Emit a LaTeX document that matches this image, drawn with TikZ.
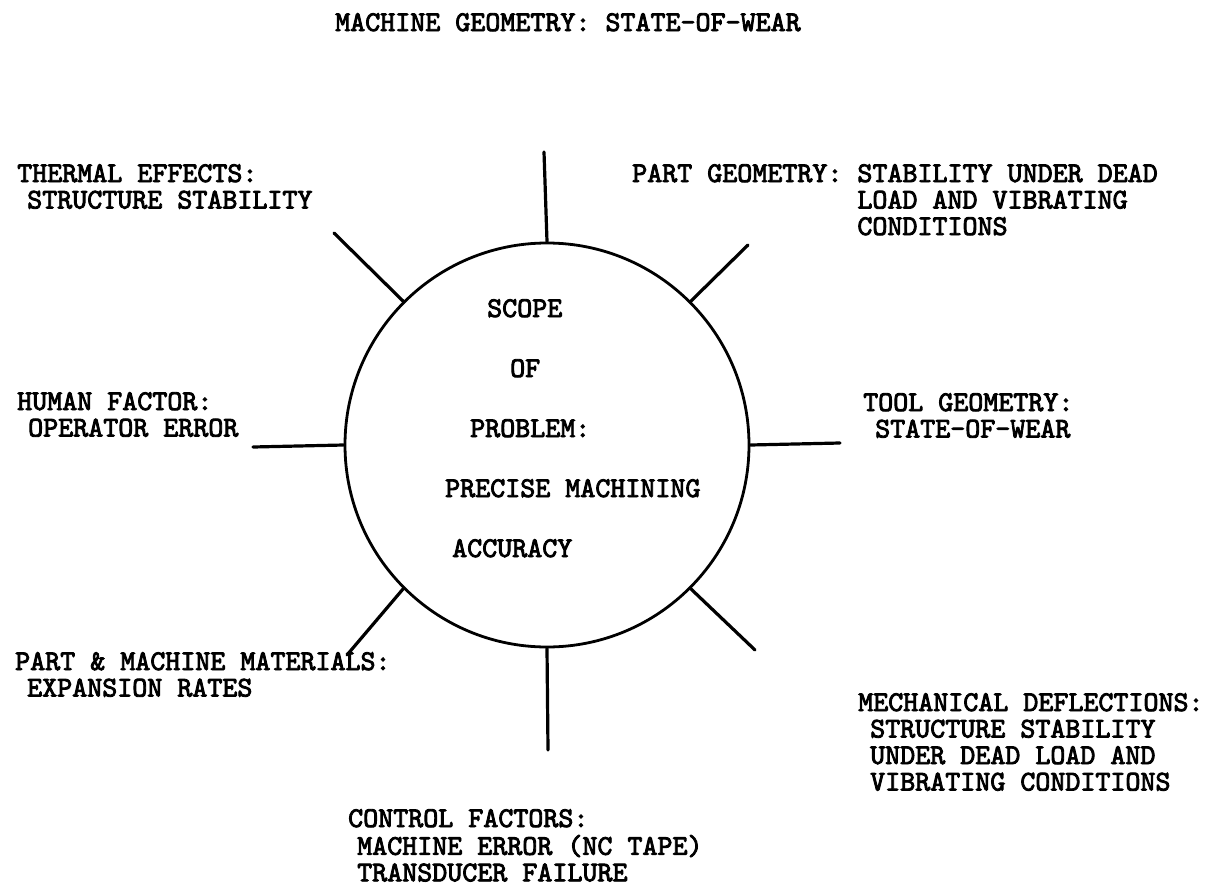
\documentclass[tikz,border=0pt]{standalone}
\usepackage{fontspec}
\newfontfamily\tw[FakeBold=3]{lmmono10-regular.otf}
\begin{document}
\begin{tikzpicture}[x=1pt,y=-1pt,
  spoke/.style={line width=3.2pt, line cap=round},
  hubstyle/.style={draw, circle, line width=2.8pt, minimum size=404pt, inner sep=0pt},
  lbl/.style={anchor=base west, inner sep=0pt, font=\tw\fontsize{28.6}{26.5}\selectfont}]
\useasboundingbox (0,0) rectangle (1213,894);

% central circle
\node[hubstyle] (hub) at (547,445) {};

% free ends of the spokes
\coordinate (eN)  at (544,152);
\coordinate (eS)  at (548,750);
\coordinate (eW)  at (253,447);
\coordinate (eE)  at (840,443);
\coordinate (eNW) at (334,233);
\coordinate (eNE) at (748,245);
\coordinate (eSW) at (347,655);
\coordinate (eSE) at (755,650);

\draw[spoke] (hub.north) -- (eN);
\draw[spoke] (hub.south) -- (eS);
\draw[spoke] (hub.west)  -- (eW);
\draw[spoke] (hub.east)  -- (eE);
\draw[spoke] (hub.135)   -- (eNW);
\draw[spoke] (hub.45)    -- (eNE);
\draw[spoke] (hub.225)   -- (eSW);
\draw[spoke] (hub.-45)   -- (eSE);

% text inside the circle
\node[lbl] (c1) at (487,317) {SCOPE};
\node[lbl] (c2) at (510,377) {OF};
\node[lbl] (c3) at (470,437) {PROBLEM:};
\node[lbl] (c4) at (445,497) {PRECISE MACHINING};
\node[lbl] (c5) at (452,557) {ACCURACY};

% surrounding factors
\node[lbl] (title) at (335,31) {MACHINE GEOMETRY: STATE-OF-WEAR};

\node[lbl] (thermal) at (17,182) {\begin{tabular}[t]{@{}l@{}}
THERMAL EFFECTS:\\
\hspace*{10pt}STRUCTURE STABILITY\end{tabular}};

\node[lbl] (partgeo) at (632,182) {\begin{tabular}[t]{@{}l@{}}
PART GEOMETRY: STABILITY UNDER DEAD\\
\phantom{PART GEOMETRY: }LOAD AND VIBRATING\\
\phantom{PART GEOMETRY: }CONDITIONS\end{tabular}};

\node[lbl] (human) at (17,410) {\begin{tabular}[t]{@{}l@{}}
HUMAN FACTOR:\\
\hspace*{11pt}OPERATOR ERROR\end{tabular}};

\node[lbl] (tool) at (863,411) {\begin{tabular}[t]{@{}l@{}}
TOOL GEOMETRY:\\
\hspace*{12pt}STATE-OF-WEAR\end{tabular}};

\node[lbl] (materials) at (15,670) {\begin{tabular}[t]{@{}l@{}}
PART \& MACHINE MATERIALS:\\
\hspace*{12pt}EXPANSION RATES\end{tabular}};

\node[lbl] (mech) at (858,711) {\begin{tabular}[t]{@{}l@{}}
MECHANICAL DEFLECTIONS:\\
\hspace*{12pt}STRUCTURE STABILITY\\
\hspace*{12pt}UNDER DEAD LOAD AND\\
\hspace*{12pt}VIBRATING CONDITIONS\end{tabular}};

\node[lbl] (control) at (348,827) {\begin{tabular}[t]{@{}l@{}}
CONTROL FACTORS:\\
\hspace*{9pt}MACHINE ERROR (NC TAPE)\\
\hspace*{9pt}TRANSDUCER FAILURE\end{tabular}};
\end{tikzpicture}
\end{document}
